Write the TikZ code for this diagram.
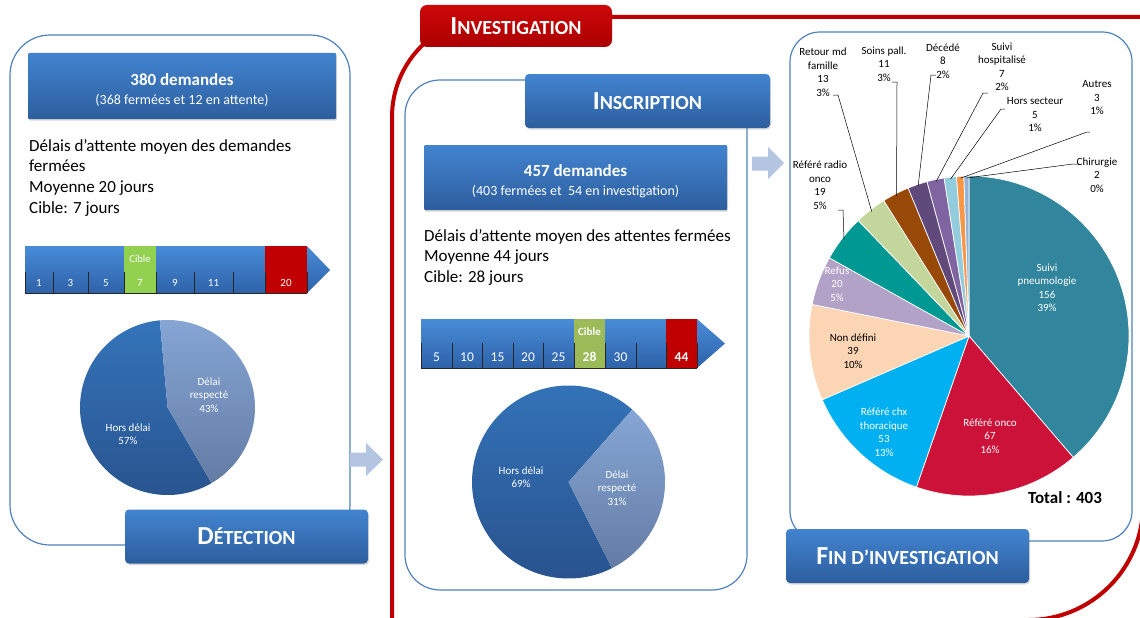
\documentclass[tikz,border=0pt]{standalone}
\usepackage{fontspec}
\setmainfont{Carlito}
\usetikzlibrary{shadows}

\definecolor{frameblue}{RGB}{79,129,189}
\definecolor{boxtop}{RGB}{66,132,208}
\definecolor{boxbot}{RGB}{45,94,158}
\definecolor{invred}{RGB}{192,0,0}
\definecolor{tabtop}{RGB}{204,8,8}
\definecolor{tabbot}{RGB}{172,0,0}
\definecolor{arrowgray}{RGB}{180,197,226}
\definecolor{bartop}{RGB}{72,140,216}
\definecolor{barbot}{RGB}{46,98,168}
\definecolor{cibleA}{RGB}{146,208,80}
\definecolor{cibleB}{RGB}{155,187,89}
\definecolor{horstop}{RGB}{52,116,186}
\definecolor{horsbot}{RGB}{40,82,140}
\definecolor{resptop}{RGB}{134,166,213}
\definecolor{respbot}{RGB}{100,124,164}
% pie colours, fin d'investigation
\definecolor{slpneumo}{RGB}{49,133,156}
\definecolor{slonco}{RGB}{205,18,58}
\definecolor{slchx}{RGB}{0,176,240}
\definecolor{slnondef}{RGB}{252,213,181}
\definecolor{slrefus}{RGB}{179,162,199}
\definecolor{slradio}{RGB}{0,152,146}
\definecolor{slretour}{RGB}{195,214,155}
\definecolor{slsoins}{RGB}{152,72,7}
\definecolor{sldeced}{RGB}{96,74,123}
\definecolor{slsuivih}{RGB}{128,100,162}
\definecolor{slhorss}{RGB}{147,205,221}
\definecolor{slautres}{RGB}{247,150,70}
\definecolor{slchir}{RGB}{149,179,215}

\newcommand\capsword[2]{{\bfseries\fontsize{26}{26}\selectfont #1}{\bfseries\fontsize{20}{20}\selectfont #2}}

\begin{document}
\begin{tikzpicture}
        [
            x = 1pt, y = 1pt,
            panel/.style      = {draw=frameblue, line width=1.2pt},
            bluebox/.style    = {shape=rectangle, top color=boxtop, bottom color=boxbot, text=white,
                                 align=center, inner sep=0pt,
                                 drop shadow={shadow xshift=1pt, shadow yshift=-1.5pt, opacity=0.3}},
            titlebox/.style   = {bluebox, rounded corners=4pt, minimum width=243, minimum height=54},
            countbox/.style   = {bluebox, rounded corners=1pt},
            bodytext/.style   = {anchor=north west, align=left, inner sep=0pt, font=\fontsize{17}{20.8}\selectfont},
            pielabel/.style   = {align=center, text=white, inner sep=0pt, font=\fontsize{11}{13.5}\selectfont},
            outlabel/.style   = {pielabel, text=black},
            cell/.style       = {text=white, inner sep=0pt},
            tick/.style       = {draw=black!85, line width=0.8pt},
            blockarrow/.style = {fill=arrowgray},
            slice/.style      = {draw=white, line width=0.7pt},
            leader/.style     = {draw=black, line width=0.5pt},
        ]
        \useasboundingbox (0,0) rectangle (1140,-618);

        % investigation frame
        \draw[invred, line width=4pt] (392,-640) -- (392,-117) arc[start angle=180, end angle=90, radius=100]
            -- (1143,-17) -- (1143,-505) arc[start angle=0, end angle=-90, radius=115] -- (900,-620);
        \node[shape=rectangle, rounded corners=7pt, top color=tabtop, bottom color=tabbot, text=white,
              minimum width=192, minimum height=42, inner sep=0pt] (inv-title) at (516,-26)
            {\capsword{I}{NVESTIGATION}};

        % panels
        \draw[panel, rounded corners=40] (10,-35) rectangle (350,-545);
        \draw[panel, rounded corners=35] (405,-80) rectangle (747,-590);
        \draw[panel, rounded corners=30] (790,-32) rectangle (1132,-541);

        % detection
        \node[countbox, minimum width=308, minimum height=66] (det-count) at (182,-86)
            {\fontsize{17}{21}\selectfont\rule{0pt}{20pt}\textbf{380 demandes}\\[7pt]
             \fontsize{14}{21}\selectfont (368 fermées et 12 en attente)};
        \node[bodytext] (det-text) at (29,-139)
            {Délais d’attente moyen des demandes\\fermées\\Moyenne 20 jours\\Cible: 7 jours};

        \shade[top color=bartop, bottom color=barbot] (25,-246) -- (307,-246) -- (330,-270) -- (307,-293) -- (25,-293) -- cycle;
        \fill[cibleA] (124,-246) rectangle (156,-293);
        \fill[invred] (265,-246) rectangle (307,-293);
        \foreach \x in {25,53,88,124,156,194,233,265,307}
            \draw[tick] (\x,-272) -- (\x,-293);
        \draw[tick] (25,-293) -- (307,-293);
        \node[cell, font=\fontsize{10.5}{10.5}\selectfont] (det-cible) at (140,-259) {Cible};
        \foreach \x/\t [count=\i] in {39/1, 70.5/3, 106/5, 140/7, 175/9, 213.5/11, 286/20}
            \node[cell, font=\fontsize{11}{11}\selectfont] (det-day\i) at (\x,-283) {\t};

        \coordinate (det-pie) at (167.5,-407.5);
        \shade[top color=horstop, bottom color=horsbot] (det-pie) -- ++(-59.8:87.5)
            arc[start angle=-59.8, end angle=-265, radius=87.5] -- cycle;
        \shade[top color=resptop, bottom color=respbot] (det-pie) -- ++(95:87.5)
            arc[start angle=95, end angle=-59.8, radius=87.5] -- cycle;
        \node[pielabel] (det-hors) at (128,-434) {Hors délai\\57\%};
        \node[pielabel] (det-resp) at (209,-395) {Délai\\respecté\\43\%};

        \node[titlebox] (det-title) at (246.5,-536.5) {\capsword{D}{ÉTECTION}};

        \fill[blockarrow] (350,-452.5) -- (366,-452.5) -- (366,-443) -- (383,-459.5) -- (366,-476)
            -- (366,-466.5) -- (350,-466.5) -- cycle;

        % inscription
        \node[titlebox, minimum width=245] (ins-title) at (647.5,-101) {\capsword{I}{NSCRIPTION}};
        \node[countbox, minimum width=303, minimum height=65] (ins-count) at (575.5,-177.5)
            {\fontsize{17}{21}\selectfont\rule{0pt}{20pt}\textbf{457 demandes}\\[7pt]
             \fontsize{14}{21}\selectfont (403 fermées et\ \ 54 en investigation)};
        \node[bodytext] (ins-text) at (424,-229)
            {Délais d’attente moyen des attentes fermées\\Moyenne 44 jours\\Cible: 28 jours};

        \shade[top color=bartop, bottom color=barbot] (421,-319) -- (697,-319) -- (725,-343.5) -- (697,-368) -- (421,-368) -- cycle;
        \fill[cibleB] (574,-319) rectangle (605,-368);
        \fill[invred] (666,-319) rectangle (697,-368);
        \foreach \x in {421,452,482,513,543,574,605,636,666,697}
            \draw[tick] (\x,-343) -- (\x,-368);
        \draw[tick] (421,-368) -- (697,-368);
        \node[cell, font=\bfseries\fontsize{11}{11}\selectfont] (ins-cible) at (589.5,-332) {Cible};
        \foreach \x/\t [count=\i] in {436.5/5, 467/10, 497.5/15, 528/20, 558.5/25, 589.5/\textbf{28}, 620.5/30, 681.5/\textbf{44}}
            \node[cell, font=\fontsize{13.5}{13.5}\selectfont] (ins-day\i) at (\x,-357) {\t};

        \coordinate (ins-pie) at (568.5,-482);
        \shade[top color=horstop, bottom color=horsbot] (ins-pie) -- ++(48.6:96.5)
            arc[start angle=48.6, end angle=296.8, radius=96.5] -- cycle;
        \shade[top color=resptop, bottom color=respbot] (ins-pie) -- ++(48.6:96.5)
            arc[start angle=48.6, end angle=-63.2, radius=96.5] -- cycle;
        \node[pielabel] (ins-hors) at (521,-477) {Hors délai\\69\%};
        \node[pielabel] (ins-resp) at (617,-488) {Délai\\respecté\\31\%};

        \fill[blockarrow] (752,-156.5) -- (768,-156.5) -- (768,-147) -- (784,-163) -- (768,-179)
            -- (768,-170.5) -- (752,-170.5) -- cycle;

        % fin d'investigation
        \coordinate (fin-pie) at (969,-336);
        \foreach \v/\c [remember=\e as \s (initially 90), evaluate=\v as \e using \s-\v/403*360]
            in {156/slpneumo, 67/slonco, 53/slchx, 39/slnondef, 20/slrefus, 19/slradio, 13/slretour,
                11/slsoins, 8/sldeced, 7/slsuivih, 5/slhorss, 3/slautres, 2/slchir}
            \filldraw[slice, fill=\c] (fin-pie) -- ++(\s:160) arc[start angle=\s, end angle=\e, radius=160] -- cycle;

        \node[pielabel] (lbl-pneumo) at (1047,-288) {Suivi\\pneumologie\\156\\39\%};
        \node[pielabel] (lbl-onco) at (990,-436) {Référé onco\\67\\16\%};
        \node[pielabel] (lbl-chx) at (884,-432) {Référé chx\\thoracique\\53\\13\%};
        \node[outlabel] (lbl-nondef) at (853,-351) {Non défini\\39\\10\%};
        \node[pielabel] (lbl-refus) at (837,-284) {Refus\\20\\5\%};

        \node[outlabel] (lbl-radio) at (820,-185) {Référé radio\\onco\\19\\5\%};
        \node[outlabel] (lbl-retour) at (823,-72) {Retour md\\famille\\13\\3\%};
        \node[outlabel] (lbl-soins) at (884,-64) {Soins pall.\\11\\3\%};
        \node[outlabel] (lbl-deced) at (943,-61) {Décédé\\8\\2\%};
        \node[outlabel] (lbl-suivih) at (1002,-67) {Suivi\\hospitalisé\\7\\2\%};
        \node[outlabel] (lbl-horss) at (1035,-115) {Hors secteur\\5\\1\%};
        \node[outlabel] (lbl-autres) at (1097,-98) {Autres\\3\\1\%};
        \node[outlabel] (lbl-chir) at (1097,-175) {Chirurgie\\2\\0\%};

        \foreach \n/\sx/\tx/\sy/\a in {radio/838/843/210/142.3, retour/833/838/95/128, soins/892/897/82/117.3,
                                       deced/936/931/75/108.8, suivih/988/983/93/102, horss/1005/1001/109/96.7,
                                       autres/1090/1087/132/93.1, chir/1080/1073/164/90.9}
        {
            \coordinate (lead-\n) at (\sx,-\sy);
            \draw[leader] (lead-\n) -- (\tx,-\sy) -- ([shift={(\a:158)}]fin-pie);
        }

        \node[font=\bfseries\fontsize{17}{17}\selectfont, inner sep=0pt] (fin-total) at (1065,-498) {Total : 403};
        \node[titlebox] (fin-title) at (907.5,-556) {\capsword{F}{IN D’INVESTIGATION}};
    \end{tikzpicture}
\end{document}
